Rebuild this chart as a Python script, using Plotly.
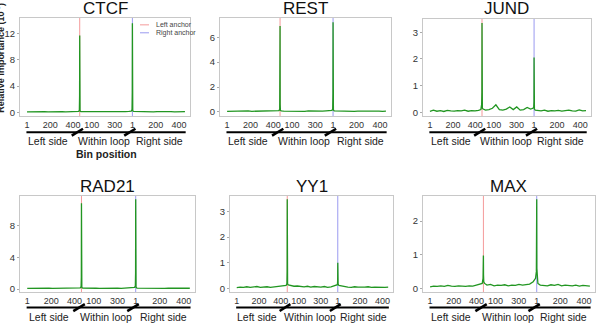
import plotly.graph_objects as go

W, H = 599, 325

# ---------------- data ----------------
tf_names = ["CTCF", "REST", "JUND", "RAD21", "YY1", "MAX"]

# bin positions along concatenated axis: left side (1-450), within loop (1-450), right side (1-450)
seg_left = list(range(0, 421, 30))
pk_left = [440, 447, 449, 450, 451, 453, 460]
seg_loop = list(range(480, 871, 30))
pk_right = [890, 897, 899, 900, 901, 903, 910]
seg_right = list(range(930, 1321, 30)) + [1349]
bin_pos = seg_left + pk_left + seg_loop + pk_right + seg_right

ctcf_vals = [0.08, 0.1, 0.07, 0.12, 0.09, 0.1, 0.08, 0.11, 0.09, 0.1, 0.12, 0.08, 0.1, 0.11, 0.13,
             0.15, 0.3, 2.5, 11.7, 0.9, 0.2, 0.12,
             0.1, 0.12, 0.09, 0.11, 0.1, 0.13, 0.09, 0.1, 0.12, 0.1, 0.08, 0.11, 0.12, 0.15,
             0.2, 0.4, 3.0, 13.6, 1.2, 0.25, 0.14,
             0.12, 0.1, 0.09, 0.11, 0.1, 0.08, 0.1, 0.12, 0.09, 0.1, 0.11, 0.08, 0.1, 0.09, 0.1]
rest_vals = [0.05, 0.06, 0.04, 0.07, 0.05, 0.06, 0.08, 0.05, 0.06, 0.07, 0.05, 0.06, 0.05, 0.07, 0.08,
             0.1, 0.2, 2.8, 6.9, 0.6, 0.12, 0.08,
             0.07, 0.06, 0.08, 0.05, 0.07, 0.06, 0.05, 0.08, 0.06, 0.05, 0.07, 0.06, 0.08, 0.1,
             0.12, 0.25, 1.5, 7.2, 0.5, 0.15, 0.08,
             0.07, 0.06, 0.05, 0.07, 0.06, 0.05, 0.06, 0.07, 0.05, 0.06, 0.05, 0.06, 0.07, 0.05, 0.06]
jund_vals = [0.03, 0.08, 0.04, 0.06, 0.03, 0.07, 0.05, 0.04, 0.06, 0.05, 0.08, 0.04, 0.06, 0.05, 0.07,
             0.1, 0.3, 0.75, 3.35, 0.6, 0.15, 0.12,
             0.08, 0.1, 0.15, 0.28, 0.1, 0.08, 0.12, 0.2, 0.1, 0.2, 0.08, 0.1, 0.18, 0.12,
             0.15, 0.2, 0.4, 2.05, 0.3, 0.12, 0.08,
             0.07, 0.05, 0.08, 0.04, 0.06, 0.05, 0.07, 0.04, 0.06, 0.08, 0.05, 0.04, 0.09, 0.05, 0.06]
rad21_vals = [0.08, 0.1, 0.09, 0.11, 0.08, 0.1, 0.12, 0.09, 0.1, 0.08, 0.11, 0.09, 0.1, 0.12, 0.14,
              0.15, 0.3, 1.5, 10.8, 0.8, 0.2, 0.12,
              0.1, 0.09, 0.11, 0.1, 0.08, 0.1, 0.12, 0.09, 0.1, 0.11, 0.09, 0.1, 0.12, 0.15,
              0.2, 0.35, 2.0, 11.3, 1.0, 0.22, 0.12,
              0.11, 0.1, 0.09, 0.1, 0.12, 0.09, 0.1, 0.08, 0.11, 0.1, 0.09, 0.1, 0.11, 0.09, 0.1]
yy1_vals = [0.04, 0.06, 0.05, 0.07, 0.05, 0.06, 0.08, 0.05, 0.06, 0.07, 0.05, 0.06, 0.07, 0.08, 0.1,
            0.12, 0.2, 0.7, 3.47, 0.5, 0.18, 0.14,
            0.12, 0.09, 0.1, 0.08, 0.07, 0.09, 0.06, 0.08, 0.07, 0.06, 0.08, 0.05, 0.07, 0.1,
            0.12, 0.15, 0.3, 1.0, 0.25, 0.18, 0.12,
            0.1, 0.07, 0.06, 0.05, 0.07, 0.06, 0.05, 0.06, 0.07, 0.05, 0.06, 0.05, 0.06, 0.05, 0.06]
max_vals = [0.05, 0.07, 0.06, 0.08, 0.06, 0.09, 0.07, 0.06, 0.08, 0.07, 0.06, 0.08, 0.07, 0.1, 0.12,
            0.15, 0.3, 0.6, 0.98, 0.4, 0.2, 0.15,
            0.1, 0.12, 0.08, 0.1, 0.09, 0.11, 0.08, 0.1, 0.09, 0.12, 0.1, 0.11, 0.13, 0.2,
            0.3, 0.5, 1.2, 2.65, 0.6, 0.3, 0.15,
            0.1, 0.09, 0.08, 0.11, 0.09, 0.12, 0.08, 0.1, 0.09, 0.08, 0.1, 0.07, 0.09, 0.08, 0.07]
series = [ctcf_vals, rest_vals, jund_vals, rad21_vals, yy1_vals, max_vals]

y_ranges = [[-0.6, 14.4], [-0.35, 7.55], [-0.15, 3.5], [-0.4, 11.75], [-0.14, 3.6], [-0.11, 2.75]]
y_ticks = [[0, 4, 8, 12], [0, 2, 4, 6], [0, 1, 2, 3], [0, 4, 8], [0, 1, 2, 3], [0, 1, 2]]

x_tick_pos = [0, 199, 392, 552, 749, 900, 1099, 1299]
x_tick_text = ["1", "200", "400", "100", "300", "1", "200", "400"]
region_labels = ["Left side", "Within loop", "Right side"]
region_centers = [180, 655, 1130]
left_anchor_bin, right_anchor_bin = 450, 900
break_bins = [430, 878]
legend_labels = ["Left anchor", "Right anchor"]

# ---------------- layout geometry (pixels) ----------------
panels = [  # x0, x1, ytop, ybottom
    (20, 190, 18, 117),
    (220, 391, 18, 117),
    (423, 591, 19, 117),
    (20, 195, 197, 294),
    (230, 393, 197, 294),
    (423, 595, 197, 294),
]
title_y = [9, 9, 9, 188, 188, 188]
bar_y = [133, 133, 133, 309.5, 309.5, 309.5]
lab_y = [142, 142, 142, 318.5, 318.5, 318.5]

fx = lambda p: p / W
fy = lambda p: 1 - p / H

FONT = "Liberation Sans, Arial, sans-serif"
GREEN = "rgb(34,150,34)"
RED = "rgba(240,120,120,0.75)"
BLUE = "rgba(120,120,235,0.75)"

fig = go.Figure()
layout = dict(width=W, height=H, margin=dict(l=0, r=0, t=0, b=0),
              paper_bgcolor="white", plot_bgcolor="white",
              font=dict(family=FONT, color="#333", size=10),
              showlegend=False)
shapes, annotations = [], []

for i, (name, vals) in enumerate(zip(tf_names, series)):
    k = i + 1
    xa, ya = f"x{k}" if k > 1 else "x", f"y{k}" if k > 1 else "y"
    xkey, ykey = f"xaxis{k}" if k > 1 else "xaxis", f"yaxis{k}" if k > 1 else "yaxis"
    x0, x1, yt, yb = panels[i]
    layout[xkey] = dict(domain=[fx(x0), fx(x1)], range=[-60, 1392], anchor=ya,
                        tickvals=x_tick_pos, ticktext=x_tick_text, ticks="", tickangle=0,
                        showline=True, mirror=True, linecolor="#c8c8c8", linewidth=1,
                        showgrid=False, zeroline=False, tickfont=dict(size=9, color="#333"),
                        fixedrange=True)
    layout[ykey] = dict(domain=[fy(yb), fy(yt)], range=y_ranges[i], anchor=xa,
                        tickvals=y_ticks[i], ticks="outside", ticklen=2, tickcolor="#aaa",
                        showline=True, mirror=True, linecolor="#c8c8c8", linewidth=1,
                        showgrid=False, zeroline=False, tickfont=dict(size=9.5, color="#333"),
                        fixedrange=True)
    # anchor lines
    fig.add_trace(go.Scatter(x=[left_anchor_bin, left_anchor_bin], y=y_ranges[i], mode="lines",
                             line=dict(color=RED, width=1), xaxis=xa, yaxis=ya, hoverinfo="skip"))
    fig.add_trace(go.Scatter(x=[right_anchor_bin, right_anchor_bin], y=y_ranges[i], mode="lines",
                             line=dict(color=BLUE, width=1), xaxis=xa, yaxis=ya, hoverinfo="skip"))
    # importance track
    fig.add_trace(go.Scatter(x=bin_pos, y=vals, mode="lines",
                             line=dict(color=GREEN, width=1.3), xaxis=xa, yaxis=ya))
    # title
    annotations.append(dict(text=name, x=(fx(x0) + fx(x1)) / 2, y=fy(title_y[i]),
                            xref="paper", yref="paper", showarrow=False,
                            font=dict(size=17, color="#111"), xanchor="center", yanchor="middle"))
    # region bar
    shapes.append(dict(type="line", xref=xa, yref="paper", x0=-5, x1=1355,
                       y0=fy(bar_y[i]), y1=fy(bar_y[i]), line=dict(color="black", width=2)))
    for bb in break_bins:
        shapes.append(dict(type="line", xref=xa, yref="paper", x0=bb - 48, x1=bb + 48,
                           y0=fy(bar_y[i] + 3.5), y1=fy(bar_y[i] - 3.5),
                           line=dict(color="black", width=2.5)))
    for lab, c in zip(region_labels, region_centers):
        annotations.append(dict(text=lab, x=c, y=fy(lab_y[i]), xref=xa, yref="paper",
                                showarrow=False, font=dict(size=10.5, color="#222"),
                                xanchor="center", yanchor="middle"))

# manual legend in first panel
for lab, col, ly in zip(legend_labels, [RED, BLUE], [25, 33]):
    shapes.append(dict(type="line", xref="paper", yref="paper", x0=fx(140), x1=fx(149),
                       y0=fy(ly), y1=fy(ly), line=dict(color=col, width=1)))
    annotations.append(dict(text=lab, x=fx(154), y=fy(ly), xref="paper", yref="paper",
                            showarrow=False, font=dict(size=7, color="#444"),
                            xanchor="left", yanchor="middle"))

annotations.append(dict(text="<b>Bin position</b>", x=675, y=fy(155), xref="x", yref="paper",
                        showarrow=False, font=dict(size=10.5, color="#222"),
                        xanchor="center", yanchor="middle"))
annotations.append(dict(text="<b>Relative importance (10<sup>-3</sup>)</b>", x=fx(0), y=fy(58),
                        xref="paper", yref="paper", showarrow=False, textangle=-90,
                        font=dict(size=9, color="#222"), xanchor="center", yanchor="middle"))

layout["shapes"] = shapes
layout["annotations"] = annotations
fig.update_layout(**layout)
fig.write_html("out.html")
